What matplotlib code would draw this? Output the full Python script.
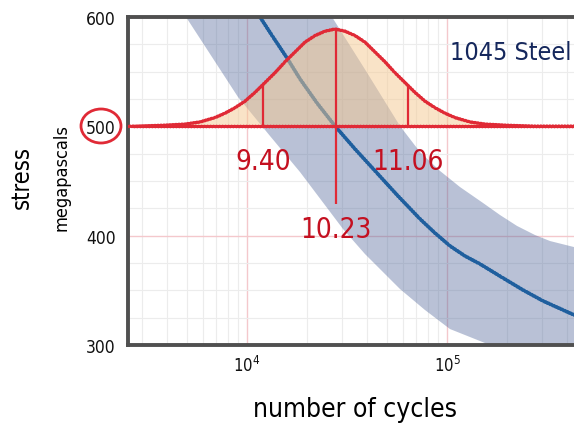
import numpy as np
import matplotlib
matplotlib.use('Agg')
import matplotlib.pyplot as plt
from matplotlib.patches import Ellipse
from matplotlib.ticker import LogLocator, MultipleLocator, NullFormatter

plt.rcParams['font.family'] = ['DejaVu Sans']
plt.rcParams['font.stretch'] = 'condensed'
plt.rcParams['mathtext.fontset'] = 'dejavusans'

# mean S-N curve (cycles, MPa)
curve_n = [10350, 11610, 13490, 15850, 18410, 22390, 27540, 34670, 44670,
           56890, 73280, 87100, 103500, 123000, 146200, 190500, 239900,
           302000, 431500, 582100]
curve_s = [614.6, 600, 581.7, 562.5, 543.3, 521.3, 500.3, 479.3, 457.3,
           436.3, 415.3, 402.4, 390.6, 381.4, 374.1, 361.3, 350.3,
           340.3, 327.5, 319.2]

# scatter band edges
band_lo_n = [4955, 6683, 9016, 13030, 18410, 30200, 38900, 58210, 77620,
             103500, 130300, 164100, 260000, 600000]
band_lo_s = [600, 563.4, 526.8, 491.2, 458.2, 406.1, 383.2, 351.2, 332.0,
             314.6, 307.3, 300, 285, 270]
band_hi_n = [26610, 39360, 58210, 73280, 92260, 116100, 151400, 184100,
             223900, 275400, 327300, 431500, 600000]
band_hi_s = [600, 550.6, 500.3, 476.5, 459.2, 444.5, 429.9, 418.9,
             408.9, 400.6, 395.1, 389.6, 386]

# life distribution at 500 MPa
bell_n = [2541, 2754, 3890, 4898, 5821, 6918, 7762, 8710, 9772, 10960,
          12300, 13800, 15490, 17380, 19500, 21880, 24550, 27540, 30900,
          34670, 38900, 43650, 48980, 54950, 61660, 69180, 77620, 87100,
          97720, 109600, 130300, 154900, 195000, 275400, 582100]
bell_s = [500, 500, 501, 502, 504, 508, 512, 517, 523, 531,
          540, 549, 559, 568, 577, 583, 587, 589, 587,
          583, 577, 568, 559, 549, 540, 531, 523, 517,
          512, 508, 504, 502, 501, 500, 500]
stress_level = 500
ln_marks = [9.40, 10.23, 11.06]
mark_top = [538, 589, 538]
mark_bottom = [500, 429, 500]
label_s = [468, 406, 468]

x_ticks = [1e4, 1e5]
x_labels = [r'$10^4$', r'$10^5$']
y_ticks = [300, 400, 500, 600]

red = '#e02a36'
dark_red = '#c41020'
sketch = (0.35, 3, 1)

fig = plt.figure(figsize=(5.74, 4.27), dpi=100)
ax = fig.add_axes([128 / 574, 81 / 427, 472 / 574, 328 / 427])
ax.set_xscale('log')
ax.set_xlim(10 ** 3.405, 10 ** 5.765)
ax.set_ylim(300, 600)

# grid
ax.set_axisbelow(True)
ax.xaxis.set_minor_locator(LogLocator(base=10, subs=np.arange(2, 10)))
ax.xaxis.set_minor_formatter(NullFormatter())
ax.yaxis.set_minor_locator(MultipleLocator(25))
ax.grid(which='minor', color='#ececec', lw=0.8)
ax.grid(which='major', color='#f4c8cc', lw=1.0)

# band + mean curve
ax.fill(band_lo_n + band_hi_n[::-1], band_lo_s + band_hi_s[::-1],
        color='#50669a', alpha=0.4, lw=0, zorder=1)
ln, = ax.plot(curve_n, curve_s, color='#1f5f9e', lw=2.4, zorder=2)
ln.set_sketch_params(*sketch)

# distribution
ax.fill_between(bell_n, stress_level, bell_s, color='#f5c991', alpha=0.5,
                lw=0, zorder=3)
b, = ax.plot(bell_n, bell_s, color=red, lw=2.2, zorder=4)
b.set_sketch_params(*sketch)
h = ax.axhline(stress_level, xmin=0.01, color=red, lw=2.2, zorder=4)
h.set_sketch_params(*sketch)
vl = ax.vlines(np.exp(ln_marks), mark_bottom, mark_top, color=red, lw=1.6,
               zorder=4)
for v, s in zip(ln_marks, label_s):
    ax.text(np.exp(v), s, f'{v:.2f}', ha='center', va='center', fontsize=20,
            color=dark_red, zorder=5)

ax.text(103000, 568, '1045 Steel', ha='left', va='center', fontsize=18,
        color='#15275c')

# axes styling
ax.set_xticks(x_ticks, labels=x_labels)
ax.set_yticks(y_ticks)
ax.tick_params(which='both', length=0, labelcolor='#111111')
ax.tick_params(axis='x', pad=7, labelsize=12)
ax.tick_params(axis='y', pad=9, labelsize=12.5)
for side in ['left', 'bottom', 'top']:
    ax.spines[side].set_color('#505050')
    ax.spines[side].set_linewidth(2.8)
    ax.spines[side].set_sketch_params(0.4, 2, 1)
ax.spines['right'].set_visible(False)

fig.text(22 / 574, 1 - 178 / 427, 'stress', rotation=90, fontsize=17,
         ha='center', va='center')
fig.text(62 / 574, 1 - 178 / 427, 'megapascals', rotation=90, fontsize=13,
         ha='center', va='center')
fig.text(355 / 574, 1 - 410 / 427, 'number of cycles', fontsize=19,
         ha='center', va='center')

circ = Ellipse((101 / 574, 1 - 127 / 427), 40 / 574, 34 / 427,
               transform=fig.transFigure, fill=False, ec=red, lw=2)
fig.add_artist(circ)

fig.savefig('out.png', dpi=100)
